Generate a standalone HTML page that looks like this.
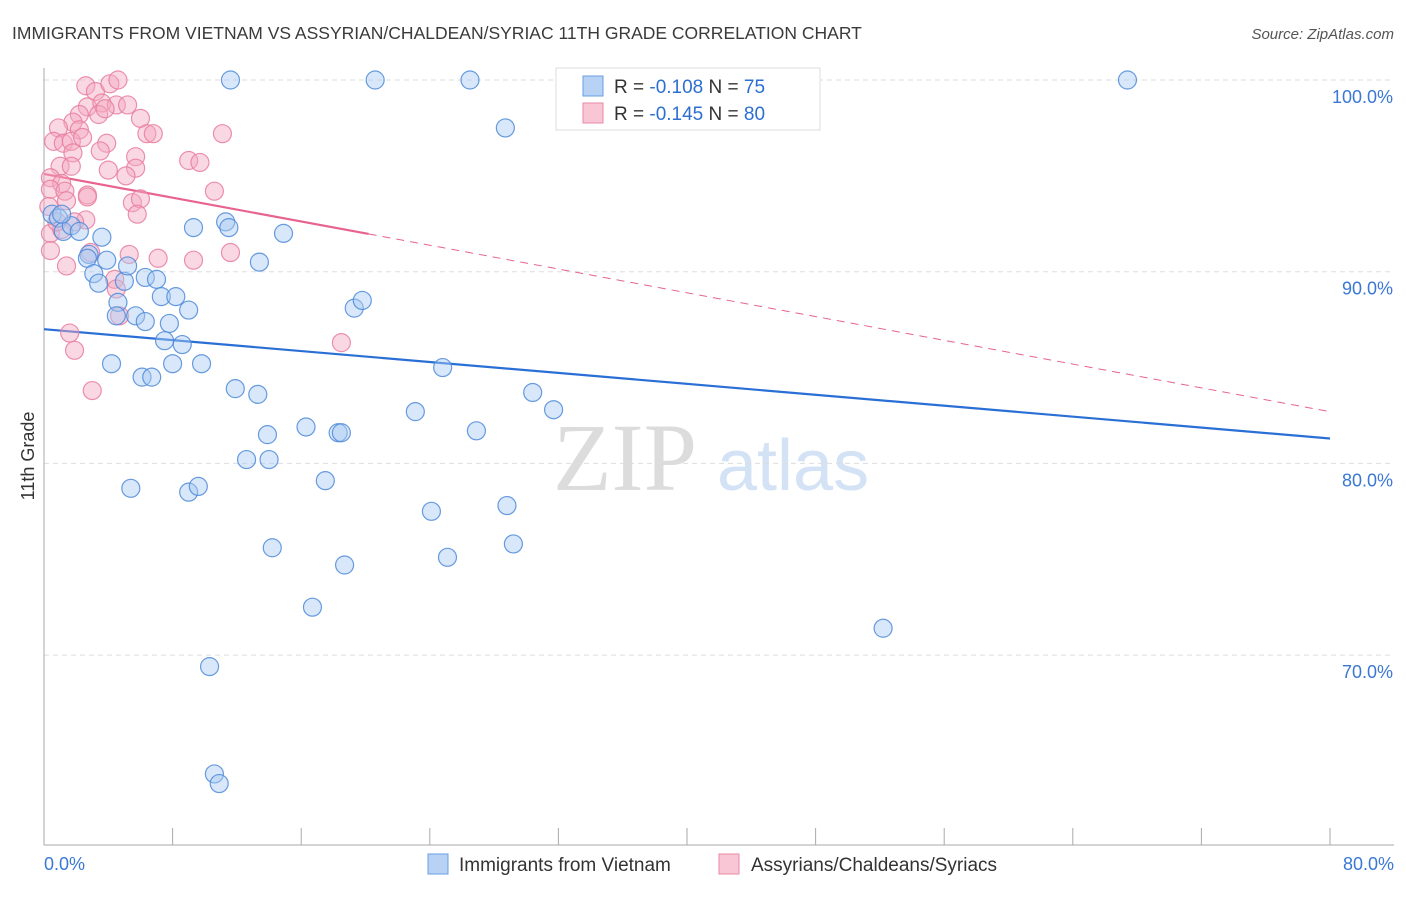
<!DOCTYPE html>
<html><head><meta charset="utf-8"><style>
body{margin:0;background:#fff;font-family:"Liberation Sans",sans-serif}
svg text{font-family:"Liberation Sans",sans-serif}
</style></head><body>
<svg id="chart" width="1406" height="892" viewBox="0 0 1406 892" xmlns="http://www.w3.org/2000/svg">
<text x="12" y="39" font-size="17.5" fill="#3a3a3a">IMMIGRANTS FROM VIETNAM VS ASSYRIAN/CHALDEAN/SYRIAC 11TH GRADE CORRELATION CHART</text>
<text x="1394" y="39" font-size="15" fill="#555" text-anchor="end" font-style="italic">Source: ZipAtlas.com</text>
<g>
<text x="553" y="490" font-size="96" fill="#dcdcdc" font-family="Liberation Serif" style="font-family:'Liberation Serif',serif">ZIP</text>
<text x="717" y="490" font-size="72" fill="#d3e2f5">atlas</text>
</g>
<g id="grid"></g>
<g id="axes"></g>
<g id="trends"></g>
<g id="pts"></g>
<g>
<rect x="556" y="68" width="264" height="62" fill="#fff" stroke="#ddd"/>
<rect x="583" y="76" width="20" height="20" fill="#b7d2f5" stroke="#6a9de0"/>
<text x="614" y="93" font-size="19" fill="#333">R = <tspan fill="#2d6fd1">-0.108</tspan>   N = <tspan fill="#2d6fd1">75</tspan></text>
<rect x="583" y="103" width="20" height="20" fill="#f8c6d5" stroke="#e88aa6"/>
<text x="614" y="120" font-size="19" fill="#333">R = <tspan fill="#2d6fd1">-0.145</tspan>   N = <tspan fill="#2d6fd1">80</tspan></text>
</g>
<g>
<rect x="428" y="854" width="20" height="20" fill="#b7d2f5" stroke="#6a9de0"/>
<text x="459" y="871" font-size="19" fill="#333">Immigrants from Vietnam</text>
<rect x="719" y="854" width="20" height="20" fill="#f8c6d5" stroke="#e88aa6"/>
<text x="751" y="871" font-size="19" fill="#333">Assyrians/Chaldeans/Syriacs</text>
</g>
<text transform="translate(34,456) rotate(-90)" font-size="18" fill="#333" text-anchor="middle">11th Grade</text>
</svg>
<script>
const xTicks=[0,80];
const yTicks=[100,90,80,70];
const blueX=[11.6,20.6,26.5,67.4,28.7,0.5,0.9,1.2,1.7,2.2,1.1,2.8,3.6,2.7,3.9,3.1,3.4,5.0,5.2,4.6,4.5,6.3,7.0,7.3,8.2,9.0,5.7,6.3,7.8,7.5,8.6,4.2,6.1,6.7,8.0,9.8,9.3,11.3,11.5,13.4,14.9,19.3,19.8,11.9,13.3,13.9,16.3,18.3,18.5,12.6,14.0,5.4,9.0,9.6,17.5,24.8,23.1,26.9,30.4,31.7,24.1,28.8,29.2,25.1,14.2,18.7,16.7,52.2,10.3,10.6,10.9];
const blueY=[100,100,100,100,97.5,93.0,92.8,92.1,92.4,92.1,93.0,90.9,91.8,90.7,90.6,89.9,89.4,89.5,90.3,88.4,87.7,89.7,89.6,88.7,88.7,88.0,87.7,87.4,87.3,86.4,86.2,85.2,84.5,84.5,85.2,85.2,92.3,92.6,92.3,90.5,92.0,88.1,88.5,83.9,83.6,81.5,81.9,81.6,81.6,80.2,80.2,78.7,78.5,78.8,79.1,85.0,82.7,81.7,83.7,82.8,77.5,77.8,75.8,75.1,75.6,74.7,72.5,71.4,69.4,63.8,63.3];
const pinkX=[2.6,3.2,4.1,4.6,2.7,3.6,4.5,5.2,2.2,3.4,3.8,1.8,6.0,0.9,2.2,6.4,6.8,11.1,0.6,1.2,1.7,2.4,3.9,3.5,5.7,9.0,9.7,1.8,1.0,1.7,4.0,5.7,5.1,0.4,1.1,0.4,1.3,2.7,2.7,10.6,1.4,5.5,6.0,5.8,2.6,1.9,0.4,1.1,0.4,1.4,2.9,5.3,7.1,9.3,11.6,4.4,4.5,4.7,1.6,1.9,3.0,18.5,0.3,0.8];
const pinkY=[99.7,99.4,99.8,100,98.6,98.8,98.7,98.7,98.2,98.2,98.5,97.8,98.0,97.5,97.4,97.2,97.2,97.2,96.8,96.7,96.8,97.0,96.7,96.3,96.0,95.8,95.7,96.2,95.5,95.5,95.3,95.4,95.0,94.9,94.6,94.3,94.2,94.0,93.9,94.2,93.7,93.6,93.8,93.0,92.7,92.6,92.0,92.2,91.1,90.3,91.0,90.9,90.7,90.6,91.0,89.6,89.1,87.7,86.8,85.9,83.8,86.3,93.4,92.6];
const blueTrend=[87.0,81.3];   // y at x=0 and x=80
const pinkTrend=[95.1,82.7];
const pinkSolidEnd=20.2;
const X=v=>44+v/80*1286, Y=v=>80+(100-v)*19.17;
const NS="http://www.w3.org/2000/svg";
function mk(t,a,p){const e=document.createElementNS(NS,t);for(const k in a)e.setAttribute(k,a[k]);p.appendChild(e);return e;}
const grid=document.getElementById('grid'),axes=document.getElementById('axes'),tr=document.getElementById('trends'),pts=document.getElementById('pts');
yTicks.forEach(v=>{
 const l=mk('line',{x1:44,x2:1394,y1:Y(v),y2:Y(v),stroke:'#ddd','stroke-dasharray':'5,4'},grid);
 
 
 const t=mk('text',{x:1393,y:Y(v)+23,'font-size':18,fill:'#3a78d4','text-anchor':'end'},axes);
 t.textContent=v.toFixed(1)+'%';
 
 
});
const ya=mk('line',{x1:44,x2:44,y1:68,y2:845,stroke:'#aaa'},axes);


const xa=mk('line',{x1:44,x2:1394,y1:845,y2:845,stroke:'#aaa'},axes);


for(let i=0;i<=10;i++){const tk=mk('line',{x1:X(i*8),x2:X(i*8),y1:828,y2:845,stroke:'#aaa'},axes);
 
 }
xTicks.forEach((v,i)=>{const t=mk('text',{x:i?1394:44,y:870,'font-size':18,fill:'#3a78d4','text-anchor':i?'end':'start'},axes);
 t.textContent=v.toFixed(1)+'%';
 
 });
function dot(x,y,f,s,n){const c=mk('circle',{cx:X(x),cy:Y(y),r:9,fill:f,'fill-opacity':0.45,stroke:s,'stroke-width':1.2,'stroke-opacity':0.85},pts);
 
 }
pinkX.forEach((x,i)=>dot(x,pinkY[i],'#f5a9c0','#e77e9f','assyrian-point'));
blueX.forEach((x,i)=>dot(x,blueY[i],'#a9c9f2','#4d8ad9','vietnam-point'));
const bl=mk('line',{x1:X(0),y1:Y(blueTrend[0]),x2:X(80),y2:Y(blueTrend[1]),stroke:'#2a6fd6','stroke-width':2.2},tr);


const pe=pinkTrend[0]+(pinkTrend[1]-pinkTrend[0])*pinkSolidEnd/80;
const pl=mk('line',{x1:X(0),y1:Y(pinkTrend[0]),x2:X(pinkSolidEnd),y2:Y(pe),stroke:'#e8638e','stroke-width':2.2},tr);


const pd=mk('line',{x1:X(pinkSolidEnd),y1:Y(pe),x2:X(80),y2:Y(pinkTrend[1]),stroke:'#e8638e','stroke-width':1,'stroke-dasharray':'8,6'},tr);


</script>
</body></html>
